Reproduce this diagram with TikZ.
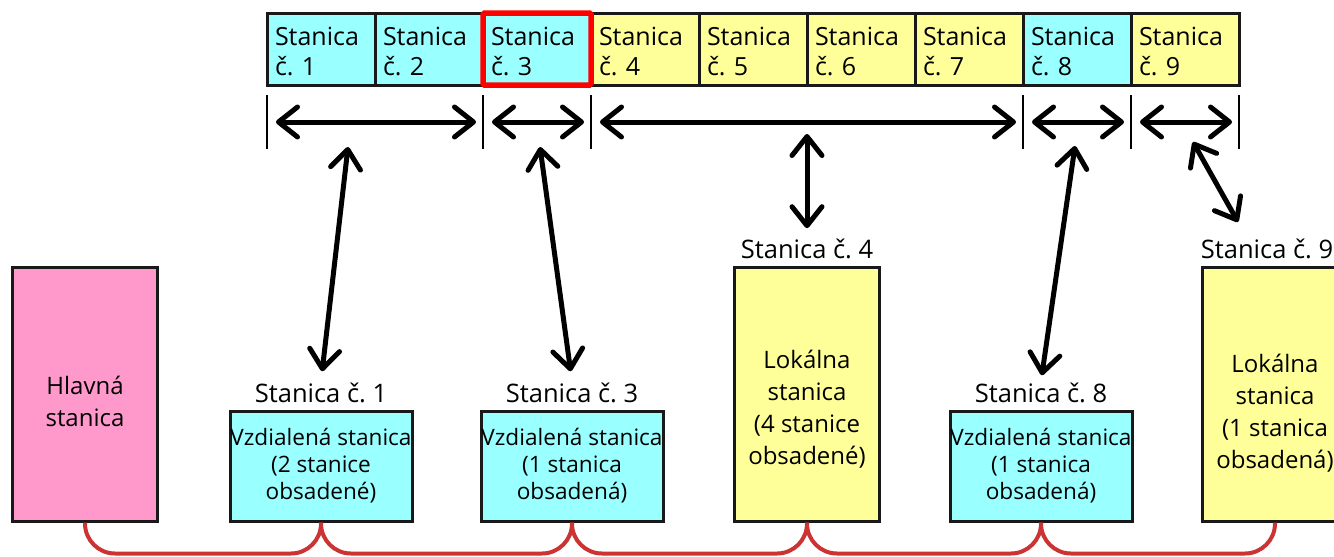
\documentclass[tikz,border=0pt]{standalone}
\usepackage{fontspec}
\setmainfont{Open Sans}
\usetikzlibrary{arrows.meta,positioning}
\frenchspacing

\definecolor{cyanfill}{HTML}{99FFFF}
\definecolor{yellowfill}{HTML}{FFFF99}
\definecolor{pinkfill}{HTML}{FF99CC}
\definecolor{busred}{HTML}{CC3333}

\newcommand{\topgap}[1]{\rule{0pt}{#1}}

\begin{document}
\begin{tikzpicture}[
    x=1pt,
    y=-1pt,
    cell/.style={draw=black!90, line width=3pt, minimum width=108pt, minimum height=72pt,
        text width=92pt, inner xsep=8pt, align=left, outer sep=0pt,
        font=\fontsize{25}{30}\selectfont},
    box/.style={draw=black!90, line width=3pt, inner sep=0pt, align=center},
    tall/.style={box, minimum width=145pt, minimum height=254pt,
        font=\fontsize{24}{32}\selectfont},
    remote/.style={box, fill=cyanfill, minimum width=182pt, minimum height=110pt,
        font=\fontsize{22.6}{27}\selectfont},
    lbl/.style={font=\fontsize{25.5}{30}\selectfont, inner sep=2pt},
    tickline/.style={line width=2.5pt},
    dblarrow/.style={line width=5pt, line cap=round,
        {Straight Barb[length=19pt,width=30pt,round]}-{Straight Barb[length=19pt,width=30pt,round]}},
    bus/.style={busred, line width=4pt, rounded corners=30pt}
]
\useasboundingbox (0,0) rectangle (1334,557);

\foreach \i/\col in {1/cyanfill,2/cyanfill,3/cyanfill,4/yellowfill,5/yellowfill,
                     6/yellowfill,7/yellowfill,8/cyanfill,9/yellowfill}
    \node[cell, fill=\col] (c\i) at ({213+108*\i},49) {\topgap{24pt}Stanica\\č. \i};
\draw[red, line width=5.5pt, rounded corners=1.5pt] (c3.north west) rectangle (c3.south east);

\foreach \n/\a in {1/c1.south west, 2/c3.south west, 3/c3.south east,
                   4/c8.south west, 5/c9.south west, 6/c9.south east}
    \coordinate (t\n) at ([yshift=-37pt]\a);
\foreach \n in {1,...,6}
    \draw[tickline] ([yshift=27pt]t\n) -- ([yshift=-27pt]t\n);
\foreach \a/\b in {1/2,2/3,3/4,4/5,5/6}
    \draw[dblarrow, shorten <=9pt, shorten >=7pt] (t\a) -- (t\b);

\node[tall, fill=pinkfill] (hub) at (85,394) {\topgap{34pt}Hlavná\\stanica};
\node[remote] (r1) at (321,466) {Vzdialená stanica\\(2 stanice\\obsadené)};
\node[remote] (r3) at (572,466) {Vzdialená stanica\\(1 stanica\\obsadená)};
\node[tall, fill=yellowfill] (loc4) at (807,394) {\topgap{48pt}Lokálna\\stanica\\(4 stanice\\obsadené)};
\node[remote] (r8) at (1041,466) {Vzdialená stanica\\(1 stanica\\obsadená)};
\node[tall, fill=yellowfill] (loc9) at (1275,394) {\topgap{56pt}Lokálna\\stanica\\(1 stanica\\obsadená)};

\node[lbl, above=4pt of r1] (l1) {Stanica č. 1};
\node[lbl, above=4pt of r3] (l3) {Stanica č. 3};
\node[lbl, above=4pt of loc4] (l4) {Stanica č. 4};
\node[lbl, above=4pt of r8] (l8) {Stanica č. 8};
\node[lbl, above=4pt of loc9, xshift=-8pt] (l9) {Stanica č. 9};

\coordinate (v1) at (348,147);
\coordinate (v3) at (540,147);
\coordinate (v4) at (807,134);
\coordinate (v8) at (1075,146);
\coordinate (v9) at (1193,142);
\coordinate (w9) at (1238,222);
\draw[dblarrow, shorten >=10pt] (v1) -- (l1.north);
\draw[dblarrow, shorten >=10pt] (v3) -- (l3.north);
\draw[dblarrow, shorten >=9pt] (v4) -- (l4.north);
\draw[dblarrow, shorten >=6pt] (v8) -- (l8.north);
\draw[dblarrow] (v9) -- (w9);

\foreach \a/\b in {hub/r1, r1/r3, r3/loc4, loc4/r8, r8/loc9}
    \draw[bus] (\a.south) |- ([yshift=-31pt]\b.south) -- (\b.south);
\end{tikzpicture}
\end{document}
